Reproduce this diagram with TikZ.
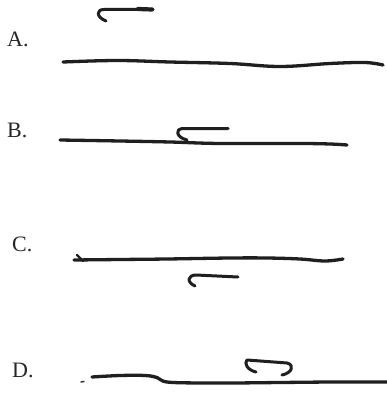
\documentclass[tikz,border=0pt]{standalone}
\usepackage{fontspec}
\setmainfont{Liberation Serif}
\begin{document}
\begin{tikzpicture}[x=1pt,y=-1pt,
  lbl/.style={anchor=base west,inner sep=0pt,font=\fontsize{22}{26}\selectfont,text=black!85},
  strand/.style={line width=3.3pt,draw=black!88,line cap=round,line join=round},
  hook/.style={line width=3pt,draw=black!88,line cap=round,line join=round}]
\useasboundingbox[fill=white] (0,0) rectangle (387,401);
% labels
\node[lbl] (la) at (7,47) {A.};
\node[lbl] (lb) at (7,137) {B.};
\node[lbl] (lc) at (12,251) {C.};
\node[lbl] (ld) at (12,377) {D.};
% A
\draw[strand] plot[smooth,tension=0.6] coordinates {(63,62) (117,60.5) (170,62) (230,63.5) (280,66.5) (330,63.5) (365,62.5) (383,65)};
\draw[hook] (153,9.5) -- (104,9.5) .. controls (96,9.5) and (96,17) .. (106,21);
\draw[line width=4.2pt,draw=black!88,line cap=round] (138,9) -- (152,9.5);
% B
\draw[strand] plot[smooth,tension=0.6] coordinates {(60,140) (120,141) (170,142) (220,143.5) (300,143.5) (330,144) (347,145)};
\draw[hook] (228,128.5) -- (182,128.5) .. controls (176,128.5) and (175,137) .. (187,140);
% C
\draw[strand] plot[smooth,tension=0.6] coordinates {(74,260) (120,259.5) (167,259) (230,258) (267,258) (300,259) (325,261) (343,259)};
\draw[line width=2.2pt,draw=black!88,line cap=round] (77,255) -- (83,261);
\draw[hook] (238,277) -- (196,275) .. controls (188,275) and (186,282) .. (195,286);
% D
\draw[line width=1.5pt,draw=black!80,line cap=round] (81,382) -- (84,381.5);
\draw[strand] plot[smooth,tension=0.6] coordinates {(92,377) (120,375.5) (145,375.5) (157,377.5) (167,382) (200,383) (233,383) (280,382.5) (333,382) (387,382)};
\draw[hook] (256,372) .. controls (247,370) and (244,363) .. (247,360) -- (287,363) .. controls (295,365) and (292,373) .. (282,375);
\end{tikzpicture}
\end{document}
